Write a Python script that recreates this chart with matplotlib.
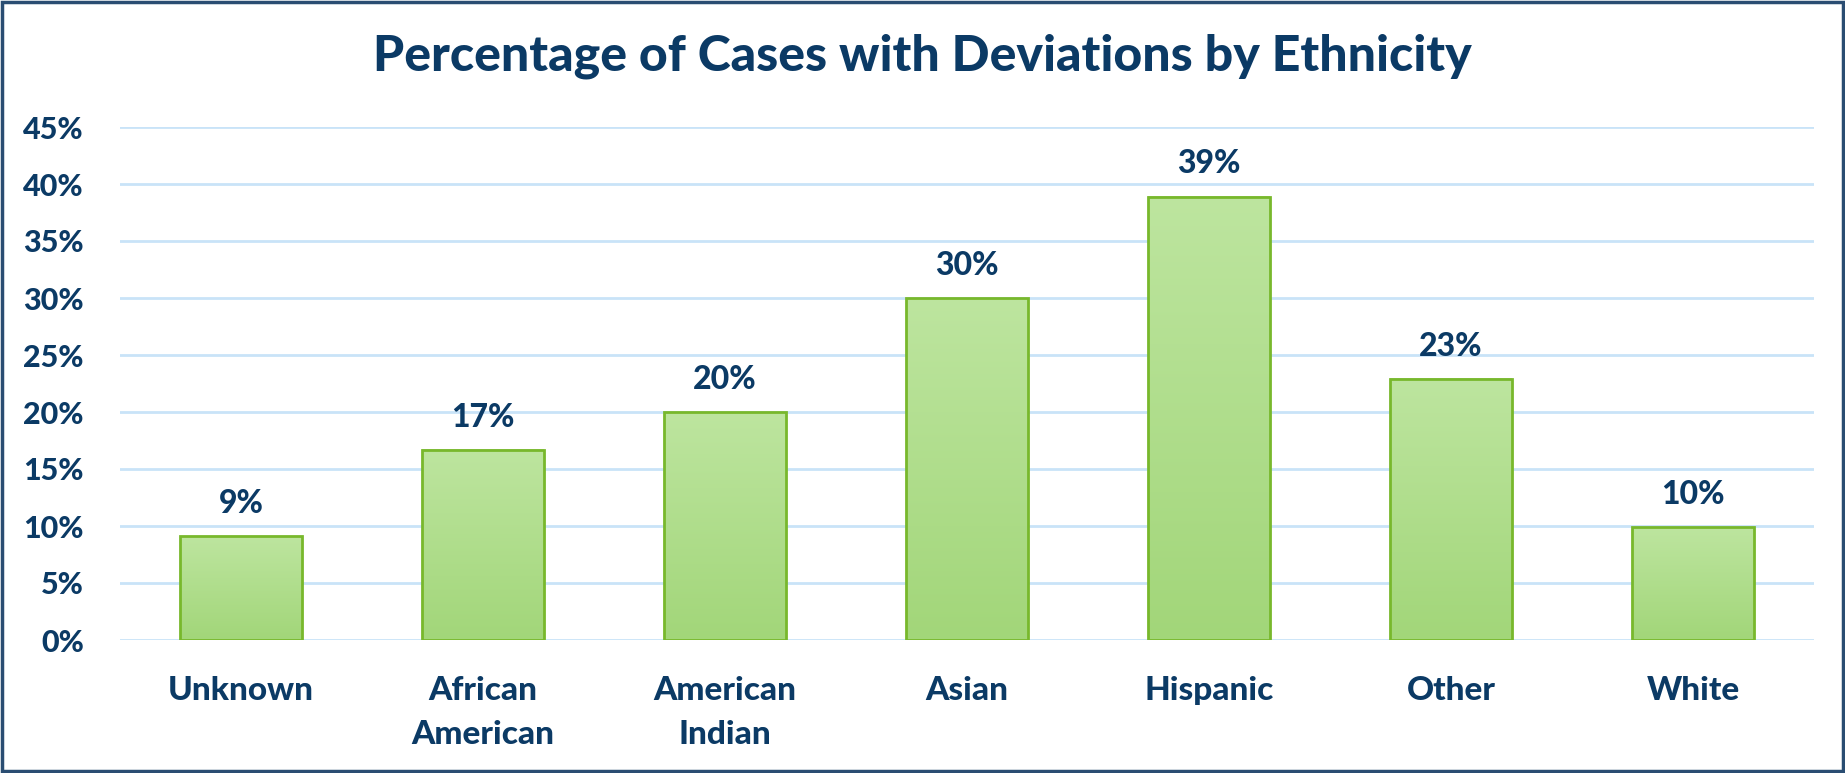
import numpy as np
import matplotlib.pyplot as plt
from matplotlib.patches import Rectangle

plt.rcParams['font.family'] = ['Lato', 'DejaVu Sans']

categories = ['Unknown', 'African\nAmerican', 'American\nIndian', 'Asian', 'Hispanic', 'Other', 'White']
values = [9.1, 16.7, 20.0, 30.0, 38.9, 22.9, 9.9]
labels = ['9%', '17%', '20%', '30%', '39%', '23%', '10%']
yticks = [0, 5, 10, 15, 20, 25, 30, 35, 40, 45]

navy = '#0B3A65'
W, H = 1845, 773
fig = plt.figure(figsize=(W / 100, H / 100), dpi=100)
ax = fig.add_axes([120 / W, (H - 640) / H, (1814 - 120) / W, (640 - 127) / H])

x = np.arange(len(categories))
bw = 0.504

# gradient fill, light at top, darker at bottom
grad = np.linspace(0, 1, 256).reshape(-1, 1)
top_c = np.array([0xBD, 0xE5, 0x9F]) / 255
bot_c = np.array([0xA2, 0xD6, 0x79]) / 255
img = top_c * (1 - grad[..., None]) + bot_c * grad[..., None]
img = img[::-1]

bars = ax.bar(x, values, width=bw, color='none', edgecolor='#78B82C', linewidth=2, zorder=3)
for b in bars:
    ax.imshow(img, extent=[b.get_x(), b.get_x() + b.get_width(), 0, b.get_height()],
              aspect='auto', origin='lower', zorder=2, interpolation='bilinear')
ax.set_xlim(-0.5, len(categories) - 0.5)
ax.set_ylim(0, 45)

for xi, v, lab in zip(x, values, labels):
    ax.annotate(lab, (xi, v), xytext=(0, 13), textcoords='offset points',
                ha='center', va='bottom', fontsize=23, fontweight=900, color=navy,
                annotation_clip=False)

ax.set_yticks(yticks)
ax.set_yticklabels([f'{t}%' for t in yticks])
ax.set_xticks(x)
ax.set_xticklabels(categories, linespacing=1.6)
ax.tick_params(axis='y', length=0, pad=26, labelsize=22, labelcolor=navy)
ax.tick_params(axis='x', length=0, pad=26, labelsize=24, labelcolor=navy)
for lab in ax.get_xticklabels() + ax.get_yticklabels():
    lab.set_fontweight(900)

ax.yaxis.grid(True, color='#C9E3F8', linewidth=2)
ax.set_axisbelow(True)
for s in ax.spines.values():
    s.set_visible(False)

fig.text(0.5, (H - 56) / H, 'Percentage of Cases with Deviations by Ethnicity',
         ha='center', va='center', fontsize=36, fontweight=900, color=navy)

fig.patches.append(Rectangle((0.001, 0.002), 0.998, 0.996, transform=fig.transFigure,
                             fill=False, edgecolor='#2A4D72', linewidth=2.5))

fig.savefig('out.png', dpi=100)
